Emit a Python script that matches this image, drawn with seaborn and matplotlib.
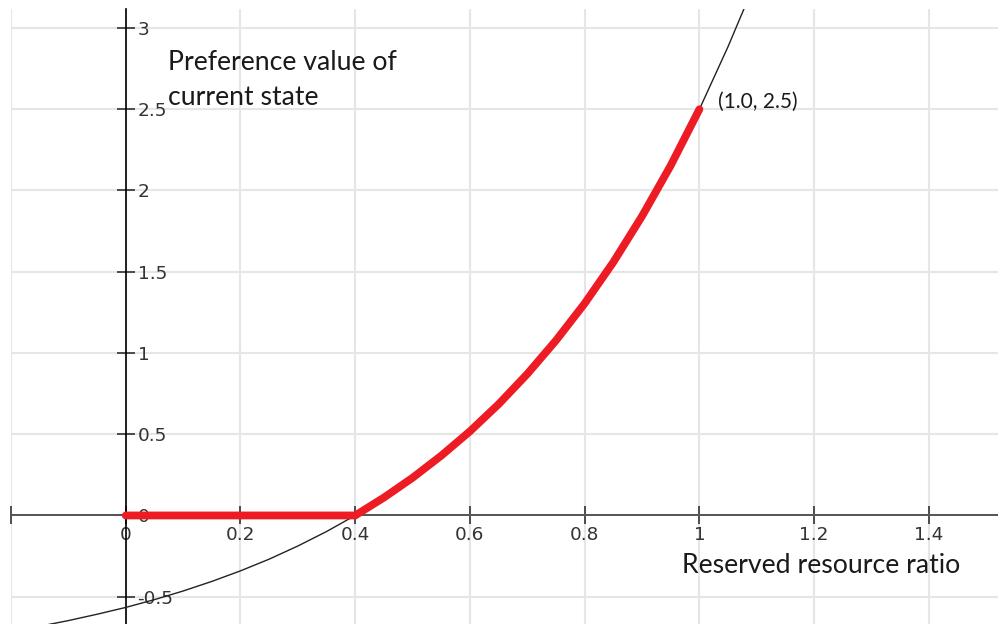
import numpy as np
import pandas as pd
import matplotlib
matplotlib.use('Agg')
import matplotlib.pyplot as plt
import seaborn as sns

# values
curve_x = [-0.14, -0.10, -0.05, 0.00, 0.05, 0.10, 0.15, 0.20, 0.25, 0.30, 0.35, 0.40,
           0.45, 0.50, 0.55, 0.60, 0.65, 0.70, 0.75, 0.80, 0.85, 0.90, 0.95, 1.00, 1.05, 1.08]
curve_y = [-0.675, -0.647, -0.608, -0.566, -0.518, -0.465, -0.406, -0.341, -0.269, -0.188,
           -0.099, 0.000, 0.110, 0.232, 0.368, 0.518, 0.685, 0.871, 1.077, 1.305, 1.559,
           1.842, 2.154, 2.500, 2.886, 3.137]

red_x = [0.00, 0.10, 0.20, 0.30, 0.40, 0.45, 0.50, 0.55, 0.60, 0.65, 0.70, 0.75, 0.80,
         0.85, 0.90, 0.95, 1.00]
red_y = [0.000, 0.000, 0.000, 0.000, 0.000, 0.110, 0.232, 0.368, 0.518, 0.685, 0.871,
         1.077, 1.305, 1.559, 1.842, 2.154, 2.500]

x_ticks = [-0.2, 0, 0.2, 0.4, 0.6, 0.8, 1, 1.2, 1.4]
x_labels = ['', '0', '0.2', '0.4', '0.6', '0.8', '1', '1.2', '1.4']
y_ticks = [-0.5, 0, 0.5, 1, 1.5, 2, 2.5, 3]
y_labels = ['-0.5', '0', '0.5', '1', '1.5', '2', '2.5', '3']

df_curve = pd.DataFrame({'x': curve_x, 'y': curve_y})
df_red = pd.DataFrame({'x': red_x, 'y': red_y})

sns.set_style('white')
plt.rcParams['font.family'] = ['DejaVu Sans']

fig = plt.figure(figsize=(9.98, 6.24), dpi=100)
ax = fig.add_axes([11 / 998, 0, 987 / 998, 615 / 624])
ax.set_xlim(-0.2, 1.5205)
ax.set_ylim(-0.668, 3.117)

ax.set_xticks(x_ticks, x_labels)
ax.set_yticks(y_ticks, y_labels)
ax.grid(True, color='#e6e6e6', linewidth=1.5)
ax.set_axisbelow(True)

for side in ['top', 'right']:
    ax.spines[side].set_visible(False)
ax.spines['left'].set_position(('data', 0))
ax.spines['bottom'].set_position(('data', 0))
ax.spines['left'].set_color('black')
ax.spines['left'].set_linewidth(1.2)
ax.spines['bottom'].set_color('#555555')
ax.spines['bottom'].set_linewidth(1.4)

ax.tick_params(axis='x', bottom=True, direction='inout', length=13, width=1.2, color='#333333',
               labelsize=13.3, labelcolor='#333333', pad=1.0)
ax.tick_params(axis='y', left=True, direction='inout', length=13, width=1.2, color='#333333',
               labelsize=13.3, labelcolor='#333333', pad=-15)
for lbl in ax.get_xticklabels() + ax.get_yticklabels():
    lbl.set_family('DejaVu Sans')
for lbl in ax.get_yticklabels():
    lbl.set_horizontalalignment('left')

sns.lineplot(data=df_curve, x='x', y='y', ax=ax, color='#222222', linewidth=1.0,
             estimator=None, zorder=3)
sns.lineplot(data=df_red, x='x', y='y', ax=ax, color='#ed1c24', linewidth=5.6,
             estimator=None, zorder=4, solid_capstyle='round', solid_joinstyle='round')
ax.set_xlabel('')
ax.set_ylabel('')

ax.text(0.073, 2.742, 'Preference value of', fontsize=19.2, family='Lato', color='#1a1a1a',
        va='baseline', ha='left')
ax.text(0.073, 2.526, 'current state', fontsize=19.2, family='Lato', color='#1a1a1a',
        va='baseline', ha='left')
ax.text(0.9695, -0.354, 'Reserved resource ratio', fontsize=19.2, family='Lato', color='#1a1a1a',
        va='baseline', ha='left')
ax.text(1.032, 2.548, '(1.0, 2.5)', fontsize=15, family='Lato', color='#1a1a1a',
        va='center', ha='left')

fig.savefig('out.png', dpi=100)
